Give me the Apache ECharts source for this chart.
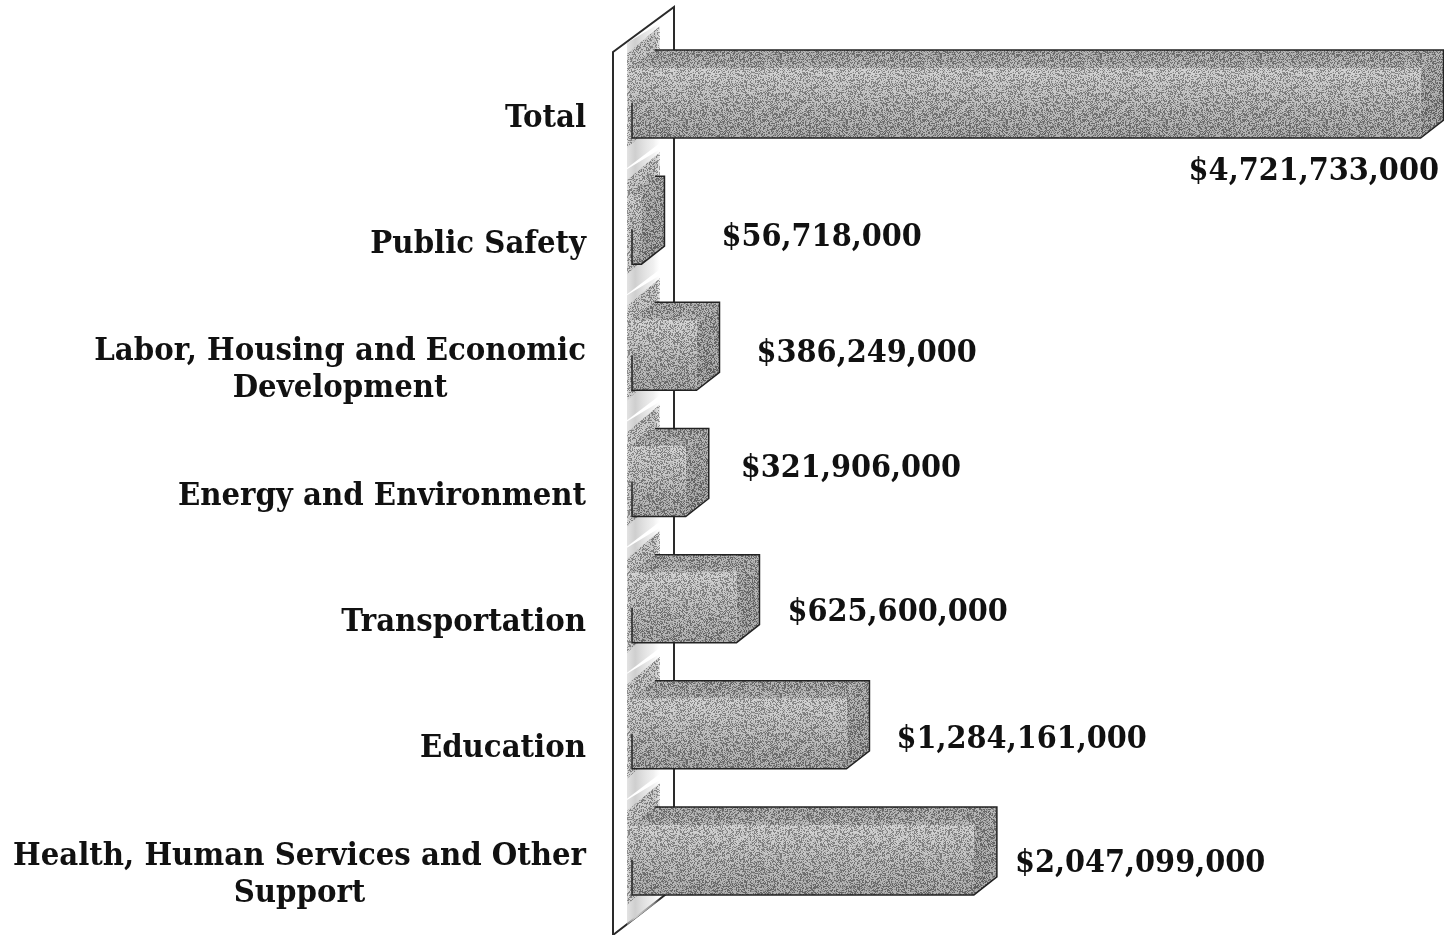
<!DOCTYPE html>
<html>
	<head>
		<meta charset="utf-8">
		<title>Budget by category</title>
		<style>
			html, body { margin: 0; padding: 0; background: #fff; overflow: hidden; }
		</style>
	</head>
	<body>
		<div id="container" style="width: 1444px;height:935px;"></div>
	</body>
	<script src="https://cdn.jsdelivr.net/npm/echarts@6/dist/echarts.min.js"></script>
	<script type="text/javascript">
		'use strict'
		var categories = [
			'Total',
			'Public Safety',
			'Labor, Housing and Economic\nDevelopment',
			'Energy and Environment',
			'Transportation',
			'Education',
			'Health, Human Services and Other\nSupport'
		];
		var amounts = [4721733000, 56718000, 386249000, 321906000, 625600000, 1284161000, 2047099000];
		var amountLabels = ['$4,721,733,000', '$56,718,000', '$386,249,000', '$321,906,000', '$625,600,000', '$1,284,161,000', '$2,047,099,000'];

		// 3D look of the bars
		var depthX = 23;
		var depthY = -18;
		var frontHeight = 70;
		var frontDrop = 20;
		var textFont = '"DejaVu Serif Condensed", "Liberation Serif", serif';
		// the value labels sit at uneven places next to the bars: [dx from bar end, dy from band centre]
		var labelShift = [[-232, 54], [57, -7], [37, -17], [32, -28], [28, -10], [27, -9], [18, -11]];

		// print grain laid over the grey faces
		function makeGrain() {
			var size = 160;
			var canvas = document.createElement('canvas');
			canvas.width = size;
			canvas.height = size;
			var ctx = canvas.getContext('2d');
			var seed = 12345;
			for (var y = 0; y < size; y++) {
				for (var x = 0; x < size; x++) {
					seed = (seed * 1103515245 + 12345) & 0x7fffffff;
					var n = (seed >> 12) % 100;
					if (n < 36) {
						ctx.fillStyle = 'rgba(0,0,0,0.3)';
					} else if (n < 78) {
						ctx.fillStyle = 'rgba(255,255,255,0.3)';
					} else {
						continue;
					}
					ctx.fillRect(x, y, 1, 1);
				}
			}
			return {image: canvas, repeat: 'repeat'};
		}
		var grain = makeGrain();

		function grey(top, bottom) {
			return new echarts.graphic.LinearGradient(0, 0, 0, 1, [
				{offset: 0, color: top},
				{offset: 1, color: bottom}
			]);
		}

		function face(points, fill) {
			return [
				{type: 'polygon', shape: {points: points}, style: {fill: fill}},
				{type: 'polygon', shape: {points: points}, style: {fill: grain}}
			];
		}

		function renderWall(params, api) {
			var cs = params.coordSys;
			var left = cs.x - 19;
			var top = cs.y - 3;
			var bottom = cs.y + cs.height - 3;
			return {
				type: 'polygon',
				shape: {points: [[left, top], [left + 61, top - 45], [left + 61, bottom - 47], [left, bottom]]},
				style: {fill: '#fff', stroke: '#2a2a2a', lineWidth: 2}
			};
		}

		// soft shadow the bars leave on the wall
		function renderShadow(params, api) {
			var base = api.coord([0, api.value(1)]);
			var x = base[0] - 5;
			var low = base[1] + frontDrop;
			var high = low - frontHeight;
			var pts = [[x, low + 10], [x, high - 14], [x + 33, high - 42], [x + 33, low - 20]];
			var soft = new echarts.graphic.LinearGradient(0, 0, 1, 0, [
				{offset: 0, color: 'rgba(170,170,170,0.35)'},
				{offset: 0.15, color: '#b4b4b4'},
				{offset: 0.85, color: '#b4b4b4'},
				{offset: 1, color: 'rgba(180,180,180,0.35)'}
			]);
			var strip = new echarts.graphic.LinearGradient(0, 0, 1, 0, [
				{offset: 0, color: 'rgba(200,200,200,0.5)'},
				{offset: 0.25, color: '#cfcfcf'},
				{offset: 0.8, color: 'rgba(225,225,225,0.5)'},
				{offset: 1, color: 'rgba(235,235,235,0)'}
			]);
			return {
				type: 'group',
				children: [
					{type: 'polygon', shape: {points: [[x, low + 30], [x, high - 25], [x + 33, high - 45], [x + 33, low + 5]]}, style: {fill: strip}},
					{type: 'polygon', shape: {points: pts}, style: {fill: soft}},
					{type: 'polygon', shape: {points: pts}, style: {fill: grain}}
				]
			};
		}

		function renderBar(params, api) {
			var start = api.coord([0, api.value(1)]);
			var end = api.coord([api.value(0), api.value(1)]);
			var x0 = start[0];
			var x1 = end[0];
			var low = start[1] + frontDrop;
			var high = low - frontHeight;
			var top = [[x0 - 3, high], [x0 + depthX, high + depthY], [x1 + depthX, high + depthY], [x1, high]];
			var side = [[x1, high], [x1 + depthX, high + depthY], [x1 + depthX, low + depthY], [x1, low]];
			var front = [[x0 - 3, high], [x1, high], [x1, low], [x0, low], [x0, low - 35], [x0 - 3, low - 45]];
			var children = [].concat(
				face(top, grey('#929292', '#a0a0a0')),
				face(side, grey('#989898', '#868686')),
				face(front, grey('#c2c2c2', '#8e8e8e'))
			);
			children.push({type: 'polyline', shape: {points: [[x0, low - 35], [x0, low], [x1, low], [x1 + depthX, low + depthY], [x1 + depthX, high + depthY], [x0 + depthX, high + depthY]]}, style: {fill: 'none', stroke: '#222', lineWidth: 1.5}});
			return {type: 'group', children: children};
		}

		function renderLabel(params, api) {
			var i = params.dataIndex;
			var end = api.coord([api.value(0), api.value(1)]);
			var shift = labelShift[i];
			// Total hangs under its bar, the rest start after the back corner
			var x = end[0] + (i === 0 ? 0 : depthX) + shift[0];
			return {
				type: 'text',
				style: {
					x: x,
					y: end[1] + shift[1],
					text: amountLabels[i],
					fill: '#111',
					font: 'bold 32px ' + textFont,
					verticalAlign: 'middle'
				}
			};
		}

		var barData = amounts.map(function(v, i) {
			return [v, i];
		});

		var myCharts = echarts.init(document.getElementById('container'));
		var option = {
			animation: false,
			backgroundColor: '#fff',
			// the wall and the last band run past the canvas edge, keep the grid where it is put
			grid: {left: 632, width: 812, top: 55, height: 883, outerBoundsMode: 'none'},
			xAxis: {
				type: 'value',
				min: 0,
				max: 4862000000,
				show: false
			},
			yAxis: {
				type: 'category',
				inverse: true,
				data: categories,
				axisLine: {show: false},
				axisTick: {show: false},
				axisLabel: {
					margin: 46,
					fontFamily: textFont,
					fontWeight: 'bold',
					fontSize: 32.5,
					color: '#111',
					formatter: function(value) {
						return value.split('\n').map(function(line) {
							return '{c|' + line + '}';
						}).join('\n');
					},
					rich: {
						c: {
							align: 'center',
							fontFamily: textFont,
							fontWeight: 'bold',
							fontSize: 32.5,
							lineHeight: 37,
							color: '#111'
						}
					}
				}
			},
			series: [
				{type: 'custom', z: 1, silent: true, renderItem: renderWall, data: [[0, 0]], clip: false},
				{type: 'custom', z: 2, silent: true, renderItem: renderShadow, data: barData, clip: false},
				{type: 'custom', z: 3, silent: true, renderItem: renderBar, data: barData, clip: false},
				{type: 'custom', z: 4, silent: true, renderItem: renderLabel, data: barData, clip: false}
			]
		};
		myCharts.setOption(option);
	</script>
</html>
